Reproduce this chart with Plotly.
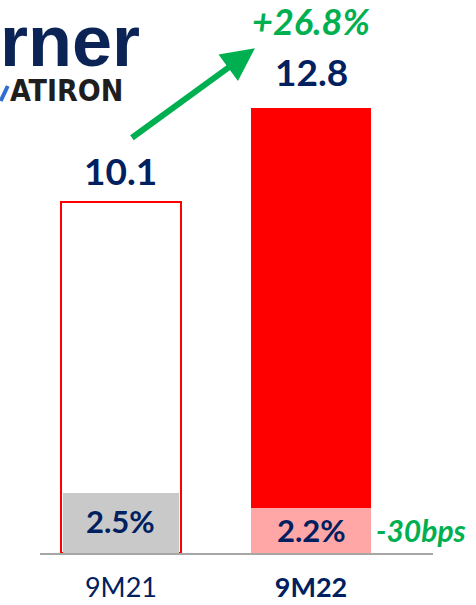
import plotly.graph_objs as go

# data
periods = ['9M21', '9M22']
revenue = [10.1, 12.8]
revenue_labels = ['10.1', '12.8']
margin_bar = [1.72, 1.29]
margin_labels = ['2.5%', '2.2%']
growth_label = '+26.8%'
margin_change_label = '-30bps'
tick_labels = ['9M21', '<b>9M22</b>']

navy = '#002060'
green = '#00B050'
font = 'Lato, "Open Sans", sans-serif'

x = [0, 1]

outer = go.Bar(
    x=x, y=revenue,
    width=0.632,
    marker=dict(color=['white', '#FF0000'],
                line=dict(color=['#FF0000', '#FF0000'], width=[2, 0])),
    hoverinfo='skip'
)
inner = go.Bar(
    x=x, y=margin_bar,
    width=[0.612, 0.632],
    marker=dict(color=['#C9C9C9', '#FFA7A7'], line=dict(width=0)),
    hoverinfo='skip'
)

label_shift = [31.5, 36.5]
margin_shift = [2, 1]

annotations = []
for i in range(2):
    annotations.append(dict(
        x=x[i], y=revenue[i], xref='x', yref='y',
        text='<b>' + revenue_labels[i] + '</b>',
        showarrow=False, yanchor='middle', yshift=label_shift[i],
        font=dict(family=font, size=37, color=navy)
    ))
    annotations.append(dict(
        x=x[i], y=margin_bar[i] / 2, xref='x', yref='y',
        text='<b>' + margin_labels[i] + '</b>',
        showarrow=False, yanchor='middle', yshift=margin_shift[i],
        font=dict(family=font, size=31, color=navy)
    ))

annotations.append(dict(
    x=1, y=revenue[1], xref='x', yref='y',
    text='<b><i>' + growth_label + '</i></b>',
    showarrow=False, yanchor='middle', yshift=86.5, xshift=0,
    font=dict(family=font, size=36, color=green)
))
annotations.append(dict(
    x=1.578, y=margin_bar[1] / 2, xref='x', yref='y',
    text='<b><i>' + margin_change_label + '</i></b>',
    showarrow=False, yanchor='middle', yshift=1,
    font=dict(family=font, size=30, color=green)
))
# growth arrow
annotations.append(dict(
    x=0.705, y=14.5, xref='x', yref='y',
    ax=0.05, ay=11.9, axref='x', ayref='y',
    text='', showarrow=True, arrowhead=2, arrowsize=1.1,
    arrowwidth=6, arrowcolor=green, standoff=0
))
# logo (cropped at the left edge)
annotations.append(dict(
    x=-0.106, y=0.925, xref='paper', yref='paper',
    text='<b>rner</b>', showarrow=False, xanchor='left', yanchor='middle',
    font=dict(family='"Liberation Sans", Arial, sans-serif', size=72, color='#0B2455')
))
annotations.append(dict(
    x=-0.082, y=0.836, xref='paper', yref='paper',
    text='<b>ATIRON</b>', showarrow=False, xanchor='left', yanchor='middle',
    font=dict(family='"Liberation Sans Narrow", "DejaVu Sans Condensed", sans-serif',
              size=30, color='#1E1E1E')
))

shapes = [dict(
    type='line', xref='paper', yref='paper',
    x0=-0.1, y0=(553 - 101) / 553, x1=-0.082, y1=(553 - 86) / 553,
    line=dict(color='#2F6FD0', width=4)
)]

layout = go.Layout(
    width=476, height=605,
    barmode='overlay',
    showlegend=False,
    paper_bgcolor='white', plot_bgcolor='white',
    margin=dict(l=40, r=43, t=0, b=52),
    bargap=0,
    xaxis=dict(range=[-0.426, 1.642], tickvals=x, ticktext=tick_labels,
               showgrid=False, zeroline=False, showline=True,
               linecolor='#A6A6A6', linewidth=2, ticks='',
               ticklabelstandoff=10,
               tickfont=dict(family=font, size=27, color=navy)),
    yaxis=dict(range=[0, 15.89], visible=False),
    annotations=annotations,
    shapes=shapes
)

fig = go.Figure(data=[outer, inner], layout=layout)
fig.write_html('out.html', config={'displayModeBar': False},
               post_script="document.body.style.margin='0';")
